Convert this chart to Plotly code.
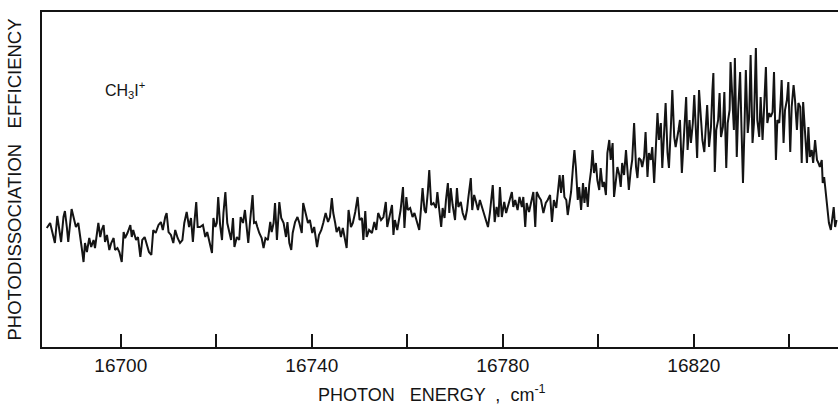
import plotly.graph_objects as go

# Photon energy (cm^-1) and photodissociation efficiency (arbitrary units)
energy_cm1 = [
    16684.5, 16685.2, 16685.7, 16686.2, 16686.7, 16687.2, 16687.5, 16688.0, 16688.3, 16688.7,
    16689.0, 16689.7, 16690.1, 16690.6, 16691.1, 16691.5, 16691.8, 16692.2, 16692.5, 16692.9,
    16693.4, 16693.8, 16694.3, 16694.6, 16695.0, 16695.3, 16695.7, 16696.0, 16696.4, 16696.7,
    16697.1, 16697.6, 16698.0, 16698.5, 16698.8, 16699.3, 16699.7, 16700.2, 16700.6, 16700.9,
    16701.4, 16702.0, 16702.3, 16702.6, 16703.2, 16703.6, 16704.1, 16704.5, 16705.0, 16705.5,
    16705.9, 16706.4, 16706.8, 16707.3, 16707.9, 16708.4, 16708.8, 16709.3, 16709.6, 16710.0,
    16710.5, 16711.0, 16711.4, 16711.9, 16712.4, 16712.9, 16713.3, 16713.8, 16714.3, 16714.7,
    16715.1, 16715.4, 16715.8, 16716.1, 16716.6,
    16717.2, 16717.7, 16718.1, 16718.7, 16719.1, 16719.4, 16719.8, 16720.1, 16720.4, 16720.8,
    16721.2, 16721.5, 16721.9, 16722.3, 16722.8, 16723.1, 16723.5, 16723.8, 16724.3, 16724.8,
    16725.1, 16725.6, 16726.0, 16726.4, 16726.7, 16727.1, 16727.6, 16727.9, 16728.3, 16728.6,
    16729.0, 16729.5, 16729.9, 16730.3, 16730.8, 16731.3, 16731.6, 16732.0, 16732.3, 16732.7,
    16733.2, 16733.6, 16734.1, 16734.6, 16734.9, 16735.3, 16735.7, 16736.0, 16736.5, 16737.0,
    16737.4, 16737.9, 16738.2, 16738.7, 16739.2, 16739.6, 16740.1, 16740.5, 16741.1, 16741.5,
    16742.0, 16742.4, 16742.9, 16743.4, 16743.8, 16744.2, 16744.5, 16744.9, 16745.2, 16745.7,
    16746.1, 16746.5, 16747.0, 16747.3, 16747.7, 16748.2, 16748.6, 16749.1, 16749.6, 16750.0,
    16750.5, 16750.8,
    16751.2, 16751.5, 16752.0, 16752.6, 16753.1, 16753.5, 16753.9, 16754.5, 16755.0, 16755.5,
    16755.8, 16756.3, 16756.8, 16757.1, 16757.4, 16757.9, 16758.3, 16758.6, 16759.1, 16759.4,
    16759.8, 16760.1, 16760.6, 16761.1, 16761.5, 16762.0, 16762.5, 16762.9, 16763.2, 16763.6,
    16763.9, 16764.3, 16764.6, 16765.0, 16765.5, 16766.0, 16766.3, 16766.7, 16767.1, 16767.4,
    16767.8, 16768.1, 16768.5, 16768.8, 16769.1, 16769.5, 16770.0, 16770.4, 16770.7, 16771.2,
    16771.6, 16772.1, 16772.5, 16772.8, 16773.3, 16773.6, 16774.0, 16774.4, 16774.8, 16775.2,
    16775.6, 16776.1, 16776.5, 16776.9, 16777.3, 16777.9, 16778.3, 16778.7, 16779.1, 16779.4,
    16779.8, 16780.3, 16780.7, 16781.0, 16781.5, 16781.9, 16782.2, 16782.6, 16783.1, 16783.5,
    16784.0, 16784.3, 16784.7, 16785.0, 16785.5, 16785.9, 16786.4, 16786.8, 16787.1, 16787.6,
    16788.0, 16788.5, 16789.0, 16789.4, 16789.9, 16790.3, 16790.7, 16791.2, 16791.6, 16791.9,
    16792.2, 16792.6, 16792.9, 16793.3, 16793.6, 16793.9, 16794.3, 16794.7, 16795.0, 16795.3,
    16795.7, 16796.0, 16796.4, 16796.8, 16797.1, 16797.4, 16797.8, 16798.1, 16798.5, 16798.8,
    16799.1, 16799.5, 16799.8, 16800.2, 16800.5, 16800.9, 16801.2, 16801.6, 16801.9, 16802.3,
    16802.6, 16803.0, 16803.3, 16803.7, 16804.0, 16804.4, 16804.7, 16805.0, 16805.4, 16805.8,
    16806.1, 16806.4, 16806.8, 16807.1, 16807.5, 16807.9, 16808.2, 16808.5, 16808.9, 16809.2,
    16809.6, 16809.9, 16810.3, 16810.6, 16811.0, 16811.3, 16811.7, 16812.0, 16812.4, 16812.7,
    16813.1, 16813.4, 16813.8, 16814.1, 16814.5, 16814.8, 16815.2, 16815.5, 16815.9,
    16816.2, 16816.8, 16817.1, 16817.5, 16817.8, 16818.2, 16818.4, 16818.7, 16819.1, 16819.4,
    16819.8, 16820.1, 16820.5, 16820.7, 16821.1, 16821.5, 16821.8, 16822.2, 16822.5, 16822.8,
    16823.2, 16823.6, 16823.9, 16824.1, 16824.4, 16824.7, 16825.1, 16825.4, 16825.7, 16826.1,
    16826.4, 16826.8, 16827.1, 16827.5, 16827.7, 16828.1, 16828.4, 16828.6, 16829.0, 16829.3,
    16829.7, 16830.0, 16830.3, 16830.6, 16830.9, 16831.3, 16831.6, 16831.9, 16832.3, 16832.6,
    16833.0, 16833.3, 16833.7, 16834.0, 16834.4, 16834.7, 16835.1, 16835.4, 16835.8, 16836.1,
    16836.5, 16836.8, 16837.2, 16837.5, 16837.9, 16838.2, 16838.4, 16838.8, 16839.1, 16839.5,
    16839.8, 16840.2, 16840.5, 16840.9, 16841.2, 16841.6, 16841.9, 16842.3, 16842.6, 16842.9,
    16843.3, 16843.7, 16844.0, 16844.3, 16844.7, 16845.0, 16845.4, 16845.8, 16846.1, 16846.4,
    16846.8, 16847.0, 16847.3, 16847.6, 16848.0, 16848.3, 16848.7, 16849.0, 16849.3, 16849.6,
    16849.9,
]

efficiency = [
    119, 124, 114, 104, 131, 117, 105, 130, 136, 120,
    105, 138, 130, 120, 124, 112, 100, 85, 104, 95,
    109, 100, 107, 99, 117, 124, 110, 117, 122, 105,
    112, 97, 104, 109, 97, 99, 95, 85, 115, 109,
    114, 122, 110, 117, 107, 110, 90, 107, 110, 100,
    95, 92, 117, 114, 122, 125, 117, 130, 134, 115,
    112, 104, 117, 109, 104, 107, 124, 135, 120, 129,
    105, 124, 145, 120, 120,
    122, 110, 115, 104, 94, 129, 120, 124, 150, 122,
    107, 134, 155, 124, 115, 107, 129, 100, 110, 107,
    130, 124, 137, 114, 104, 127, 152, 124, 125, 120,
    114, 109, 99, 109, 107, 125, 115, 124, 144, 107,
    145, 129, 124, 110, 125, 104, 97, 114, 125, 130,
    124, 114, 144, 134, 124, 127, 114, 120, 100, 112,
    117, 124, 134, 125, 130, 149, 134, 124, 115, 120,
    110, 119, 105, 99, 137, 120, 124, 135, 150, 127,
    129, 107,
    136, 110, 117, 114, 125, 117, 134, 127, 130, 145,
    120, 130, 142, 112, 127, 117, 130, 137, 160, 119,
    150, 137, 139, 130, 134, 124, 117, 140, 159, 137,
    134, 155, 177, 142, 144, 139, 155, 137, 120, 139,
    129, 147, 164, 134, 159, 142, 127, 159, 140, 145,
    134, 127, 137, 150, 169, 137, 152, 145, 137, 147,
    140, 134, 125, 120, 134, 162, 125, 140, 130, 160,
    130, 145, 134, 140, 150, 155, 140, 147, 137, 150,
    140, 150, 120, 144, 135, 144, 155, 120, 155, 150,
    147, 134, 144, 147, 152, 125, 147, 139, 155, 172,
    154, 172, 150, 147, 132, 144, 155, 180, 197, 180,
    147, 160, 137, 164, 144, 160, 140, 162, 177, 197,
    174, 184, 167, 157, 179, 160, 165, 152, 194, 207,
    187, 204, 150, 167, 180, 172, 160, 184, 172, 197,
    174, 157, 177, 187, 224, 180, 169, 189, 187, 180,
    190, 215, 170, 194, 187, 200, 164, 194, 234, 207,
    224, 179, 215, 244, 194, 179, 220, 257, 210,
    200, 217, 227, 174, 204, 230, 250, 197, 227, 204,
    224, 252, 217, 189, 257, 230, 207, 195, 217, 242,
    200, 220, 257, 274, 175, 217, 227, 254, 210, 220,
    255, 179, 224, 237, 285, 244, 217, 289, 190, 237,
    275, 217, 164, 217, 277, 214, 230, 292, 204, 224,
    299, 227, 210, 250, 207, 237, 280, 224, 234, 230,
    235, 275, 187, 227, 224, 247, 267, 204, 237, 247,
    265, 195, 240, 262, 247, 217, 244, 240, 184, 245,
    214, 184, 220, 190, 197, 184, 207, 187, 184, 180,
    187, 164, 170, 154, 137, 124, 117, 127, 140, 120,
    127,
]

tick_values = [16700, 16720, 16740, 16760, 16780, 16800, 16820, 16840]
tick_labels = ["16700", "", "16740", "", "16780", "", "16820", ""]

x_range = [16683.5, 16850.2]
y_range = [0, 335]

species_label = "CH<sub>3</sub>I<sup>+</sup>"
label_pos = (16700.9, 257)

x_title = "PHOTON   ENERGY  ,  cm<sup>-1</sup>"
y_title = "PHOTODISSOCIATION   EFFICIENCY"

INK = "#141414"
FONT = "Liberation Sans, Arial, sans-serif"

fig = go.Figure()
fig.add_trace(go.Scatter(
    x=energy_cm1, y=efficiency, mode="lines",
    line=dict(color=INK, width=2.0), hoverinfo="skip", showlegend=False,
))

fig.add_annotation(
    x=label_pos[0], y=label_pos[1], xref="x", yref="y",
    text=species_label, showarrow=False,
    font=dict(family=FONT, size=16, color=INK),
)

# x-axis title placed just below the tick labels
fig.add_annotation(
    x=0.49, y=-0.14, xref="paper", yref="paper",
    xanchor="center", yanchor="middle",
    text=x_title, showarrow=False,
    font=dict(family=FONT, size=18, color=INK),
)

fig.update_layout(
    width=838, height=404,
    margin=dict(l=42, r=0, t=12, b=57),
    paper_bgcolor="white", plot_bgcolor="white",
    font=dict(family=FONT, color=INK),
)

fig.update_xaxes(
    range=x_range, tickvals=tick_values, ticktext=tick_labels,
    ticks="inside", ticklen=13, tickwidth=2, tickcolor=INK,
    showline=True, linewidth=2, linecolor=INK, mirror=True,
    showgrid=False, zeroline=False,
    tickfont=dict(family=FONT, size=19, color=INK),
    automargin=False,
)
fig.update_yaxes(
    range=y_range, showticklabels=False, ticks="",
    showline=True, linewidth=2, linecolor=INK,
    showgrid=False, zeroline=False,
    title=dict(text=y_title,
               font=dict(family=FONT, size=18.5, color=INK), standoff=14),
    automargin=False,
)

# drop the browser's default body margin so the figure fills the window exactly
fig.write_html(
    "out.html",
    config={"displayModeBar": False},
    post_script="document.body.style.margin='0';document.body.style.overflow='hidden';",
)
